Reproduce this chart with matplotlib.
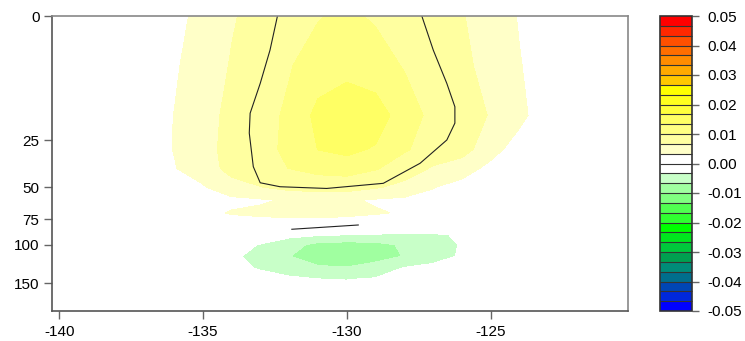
import numpy as np
import matplotlib
matplotlib.use('Agg')
import matplotlib.pyplot as plt

plt.rcParams['font.family'] = ['Liberation Sans', 'DejaVu Sans']
plt.rcParams['axes.unicode_minus'] = False

# Gitter: Laenge (Grad) und Tiefe (m)
lon = np.arange(-140, -119, 1)
depth = [0, 10, 20, 30, 40, 50, 60, 70, 80, 90, 100, 115, 130, 145, 170, 200]

# Anomalie in Einheiten von 1e-3, eine Liste pro Tiefe (von -140 bis -120)
a_000 = [0, 0, 0.67, 1.67, 2.67, 4.0, 6.33, 8.0, 8.67, 9.8, 10.67, 9.53, 8.67, 7.67, 6.8, 5.67, 3.07, 2.0, 1.33, 0.67, 0]
a_010 = [0, 0.33, 1.0, 2.0, 3.0, 4.67, 6.93, 8.33, 9.8, 11.33, 12.33, 11.67, 9.73, 8.67, 7.33, 5.67, 3.53, 1.53, 1.0, 0.53, 0]
a_020 = [0, 0.67, 1.33, 2.33, 3.37, 5.33, 7.6, 9.0, 10.47, 14.33, 15.33, 14.67, 12.0, 8.93, 7.67, 6.53, 4.0, 1.8, 1.0, 0.53, 0]
a_030 = [0, 0.67, 1.33, 2.33, 3.4, 6.0, 7.33, 9.0, 10.67, 13.4, 14.33, 12.87, 10.33, 8.67, 7.93, 4.73, 1.53, 1.0, 0.67, 0.33, 0]
a_040 = [0, 0.67, 1.33, 2.33, 3.2, 4.67, 8.0, 9.33, 10.03, 11.0, 11.33, 10.27, 8.4, 6.33, 5.0, 2.33, 1.33, 1.0, 0.67, 0.33, 0]
a_050 = [0, 0.33, 1.0, 1.67, 2.33, 3.07, 5.13, 6.53, 7.67, 8.0, 8.13, 7.0, 5.67, 3.47, 2.0, 1.33, 1.0, 0.67, 0.33, 0.2, 0]
a_060 = [0, 0.33, 0.67, 1.33, 1.67, 2.0, 2.67, 3.0, 3.67, 4.0, 3.73, 3.0, 2.67, 2.33, 1.67, 1.0, 0.67, 0.33, 0, 0, 0]
a_070 = [0, 0.33, 0.67, 1.33, 2.0, 2.67, 3.53, 3.87, 4.13, 4.2, 4.0, 3.6, 3.07, 2.33, 1.67, 1.0, 0.67, 0.33, 0, 0, 0]
a_080 = [0, 0.33, 0.67, 1.0, 1.33, 1.67, 2.0, 2.0, 2.0, 2.0, 1.67, 1.33, 1.33, 1.0, 0.67, 0.67, 0.33, 0.33, 0, 0, 0]
a_090 = [0, 0, 0, 0, -0.33, -0.67, -1.0, -1.67, -2.33, -2.87, -3.2, -3.53, -3.87, -3.73, -3.0, -2.0, -1.0, -0.67, -0.33, 0, 0]
a_100 = [0, 0, 0, -0.33, -0.67, -1.33, -2.33, -3.47, -5.33, -7.67, -8.0, -7.67, -6.2, -5.0, -3.07, -2.0, -1.33, -0.67, -0.33, 0, 0]
a_115 = [0, 0, -0.33, -0.67, -1.0, -1.67, -2.8, -4.33, -6.6, -8.0, -8.33, -8.0, -6.53, -5.0, -2.87, -2.0, -1.33, -0.67, -0.33, 0, 0]
a_130 = [0, 0, 0, -0.33, -0.67, -1.33, -2.33, -3.67, -5.0, -6.33, -6.53, -5.33, -3.2, -2.33, -1.67, -1.0, -0.67, -0.33, 0, 0, 0]
a_145 = [0, 0, 0, 0, -0.33, -0.67, -1.33, -2.0, -2.67, -3.2, -3.4, -3.0, -2.33, -1.67, -1.0, -0.67, -0.33, 0, 0, 0, 0]
a_170 = [0, 0, 0, 0, 0, -0.33, -0.67, -1.0, -1.33, -1.67, -1.67, -1.33, -1.0, -0.67, -0.33, 0, 0, 0, 0, 0, 0]
a_200 = [0] * 21
anom = np.array([a_000, a_010, a_020, a_030, a_040, a_050, a_060, a_070, a_080,
                 a_090, a_100, a_115, a_130, a_145, a_170, a_200]) / 1000.

# schwarze Konturlinie (Laenge, Tiefe)
sig_lon = [-132.41, -132.67, -133.01, -133.36, -133.39, -133.25, -133.01, -132.32, -130.70,
           -128.73, -127.45, -126.52, -126.24, -126.24, -126.52, -126.99, -127.39]
sig_depth = [0, 6.9, 13.6, 19.6, 23.6, 39.1, 47.6, 49.7, 50.9, 47.9, 37.3, 25, 21.6, 18.3, 13.6, 6.9, 0]
sig2_lon = [-131.91, -129.6]
sig2_depth = [84.8, 80.6]

# Farbskala
levels = np.linspace(-0.05, 0.05, 31)
colors = ['#0000FF', '#0028DC', '#0046B4', '#006E8C', '#008C78', '#00A050', '#00C83C', '#00E61E',
          '#00FF00', '#30FF30', '#50FF50', '#80FF80', '#A0FFA0', '#C8FFC8', '#FFFFFF',
          '#FFFFFF', '#FFFFC8', '#FFFFA0', '#FFFF82', '#FFFF64', '#FFFF3C', '#FFFF1E', '#FFFF00',
          '#FFC800', '#FFAA00', '#FF8C00', '#FF6E00', '#FF5000', '#FF2800', '#FF0000']
cbar_ticks = [-0.05, -0.04, -0.03, -0.02, -0.01, 0.0, 0.01, 0.02, 0.03, 0.04, 0.05]
xticks = [-140, -135, -130, -125]
yticks = [0, 25, 50, 75, 100, 150]

# nichtlineare Tiefenachse
depth_ref = [0, 25, 50, 75, 100, 150, 200]
pos_ref = [0, 124, 171.3, 203.3, 228.7, 267.3, 295]


def fwd(d):
    return np.interp(d, depth_ref, pos_ref)


def inv(p):
    return np.interp(p, pos_ref, depth_ref)


fig = plt.figure(figsize=(7.45, 3.41), dpi=100)
ax = fig.add_axes([52/745, 30/341, 576/745, 295/341])
cax = fig.add_axes([660/745, 30/341, 32/745, 295/341])

cf = ax.contourf(lon, depth, anom, levels=levels, colors=colors)
ax.plot(sig_lon, sig_depth, color='#222222', lw=0.8)
ax.plot(sig2_lon, sig2_depth, color='#222222', lw=0.8)

ax.set_yscale('function', functions=(fwd, inv))
ax.set_xlim(-140.25, -120.22)
ax.set_ylim(200, 0)
ax.set_xticks(xticks)
ax.set_xticklabels([str(t) for t in xticks])
ax.set_yticks(yticks)
ax.set_yticklabels([str(t) for t in yticks])
ax.minorticks_off()
ax.tick_params(direction='out', length=6, width=1, color='#666666', labelsize=11, pad=3)
ax.tick_params(axis='x', pad=4)
for s in ax.spines.values():
    s.set_color('#888888')
    s.set_linewidth(1.2)
ax.spines['left'].set_color('#555555')
ax.spines['bottom'].set_color('#555555')

cb = fig.colorbar(cf, cax=cax, ticks=cbar_ticks, drawedges=True)
cb.dividers.set_color('#333333')
cb.dividers.set_linewidth(0.8)
cb.outline.set_edgecolor('#333333')
cb.outline.set_linewidth(1.2)
cb.ax.set_yticklabels([f'{t:.2f}' for t in cbar_ticks])
cb.ax.tick_params(direction='out', length=5, width=1, color='#666666', labelsize=11, pad=6)
cb.ax.minorticks_off()

fig.savefig('out.png', dpi=100)
